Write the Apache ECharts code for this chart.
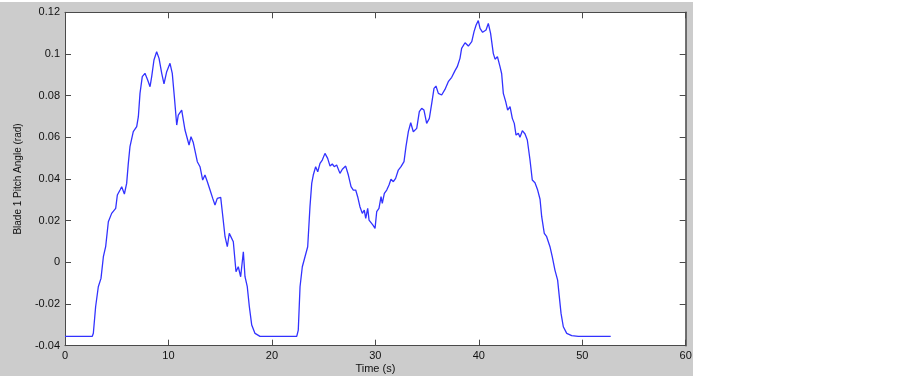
<!DOCTYPE html>
<html>
<head>
<meta charset="utf-8">
<script src="https://cdn.jsdelivr.net/npm/echarts@6/dist/echarts.min.js"></script>
<style>
  html, body { margin: 0; padding: 0; background: #ffffff; width: 903px; height: 376px; overflow: hidden; }
  #chart { position: absolute; left: 0; top: 2px; width: 693px; height: 374px; }
</style>
</head>
<body>
<div id="chart"></div>
<script>
const xTicks = [0, 10, 20, 30, 40, 50, 60];
const yTicks = [-0.04, -0.02, 0, 0.02, 0.04, 0.06, 0.08, 0.1, 0.12];

const time = [
  0, 2.64, 2.74, 2.96, 3.22, 3.48, 3.71, 3.93, 4.19, 4.51, 4.90, 5.06, 5.32, 5.48, 5.74, 5.96,
  6.12, 6.28, 6.60, 6.93, 7.09, 7.25, 7.47, 7.73, 7.99, 8.22, 8.38, 8.60, 8.86, 9.09, 9.35, 9.57,
  9.83, 10.15, 10.37, 10.57, 10.80, 10.95, 11.28, 11.44, 11.60, 11.99, 12.18, 12.40, 12.57, 12.79,
  13.05, 13.31, 13.53, 13.76, 14.02, 14.28, 14.50, 14.72, 15.05, 15.24, 15.47, 15.69, 15.88, 16.02,
  16.27, 16.53, 16.75, 16.98, 17.24, 17.40, 17.62, 17.82, 18.05, 18.37, 18.85,
  22.40, 22.55, 22.72, 22.94, 23.20, 23.46, 23.68, 23.85, 24.00, 24.23, 24.43, 24.65, 24.87, 25.13,
  25.39, 25.62, 25.84, 26.03, 26.26, 26.58, 26.81, 27.13, 27.39, 27.65, 27.87, 28.10, 28.29, 28.51,
  28.74, 28.93, 29.07, 29.26, 29.39, 29.58, 29.77, 29.97, 30.13, 30.35, 30.55, 30.67, 30.87, 31.10,
  31.32, 31.51, 31.74, 31.96, 32.22, 32.48, 32.77, 32.96, 33.19, 33.42, 33.67, 34.00, 34.25, 34.48,
  34.70, 34.96, 35.22, 35.45, 35.67, 35.86, 36.09, 36.41, 36.73, 37.05, 37.38, 37.70, 37.92, 38.18,
  38.34, 38.67, 38.99, 39.32, 39.54, 39.74, 39.95, 40.12, 40.37, 40.70, 40.92, 41.14, 41.40, 41.57,
  41.80, 42.05, 42.21, 42.37, 42.60, 42.79, 43.02, 43.24, 43.43, 43.60, 43.82, 43.98, 44.21, 44.47,
  44.69, 44.95, 45.17, 45.43, 45.69, 45.92, 46.08, 46.33, 46.56, 46.88, 47.10, 47.36, 47.62, 47.75,
  47.95, 48.17, 48.50, 48.98, 49.62, 52.75
];

const pitch = [
  -0.0355, -0.0355, -0.034, -0.0213, -0.0117, -0.0077, 0.0027, 0.0075, 0.0195, 0.0235, 0.0259, 0.0323, 0.0347, 0.0363, 0.0328, 0.0379,
  0.0475, 0.0555, 0.0627, 0.0651, 0.0699, 0.0811, 0.0891, 0.0907, 0.0875, 0.0843, 0.0891, 0.0971, 0.1011, 0.0979, 0.0907, 0.0856,
  0.0915, 0.0955, 0.0907, 0.0795, 0.0659, 0.0707, 0.0731, 0.0683, 0.0635, 0.0563, 0.0603, 0.0575, 0.0579, 0.0483,
  0.0459, 0.0395, 0.0419, 0.0387, 0.0347, 0.0307, 0.0275, 0.0307, 0.0312, 0.0227, 0.0123, 0.0075, 0.0139, 0.0147,
  0.0099, -0.0045, -0.0021, -0.0069, 0.0051, -0.0069, -0.0117, -0.0213, -0.0301, -0.0341, -0.0355,
  -0.0355, -0.0325, -0.0117, -0.0021, 0.0027, 0.0075, 0.0267, 0.0379, 0.0419, 0.0459, 0.0435, 0.0475, 0.0491, 0.0523,
  0.0499, 0.0462, 0.0472, 0.0459, 0.0467, 0.0427, 0.0447, 0.0462, 0.0419, 0.0363, 0.0347, 0.0347, 0.0315, 0.0267,
  0.0235, 0.0251, 0.0211, 0.0259, 0.0203, 0.0211, 0.0179, 0.0163, 0.0243, 0.0259, 0.0315, 0.0283, 0.0331, 0.0347,
  0.0371, 0.0399, 0.0387, 0.0403, 0.0443, 0.0459, 0.0483, 0.0555, 0.0627, 0.067, 0.0627, 0.0643, 0.0723, 0.0739,
  0.0731, 0.0667, 0.0691, 0.0763, 0.0835, 0.0846, 0.0811, 0.0803, 0.0830, 0.0867, 0.0888, 0.0920, 0.0939, 0.0979,
  0.1027, 0.1054, 0.1038, 0.1059, 0.1107, 0.1139, 0.116, 0.1123, 0.1104, 0.1115, 0.1147, 0.1099, 0.1003, 0.0975,
  0.0987, 0.0939, 0.0905, 0.0811, 0.0771, 0.0731, 0.0747, 0.0691, 0.0667, 0.0611, 0.0619, 0.0600, 0.0632, 0.0616,
  0.0587, 0.0491, 0.0395, 0.0382, 0.0347, 0.0303, 0.0219, 0.0139, 0.0123, 0.0075, 0.0027, -0.0037, -0.0085, -0.0149,
  -0.0245, -0.0309, -0.0341, -0.0352, -0.0355, -0.0355
];

const xName = 'Time (s)';
const yName = 'Blade 1 Pitch Angle (rad)';

const data = time.map((t, i) => [t, pitch[i]]);
const axisColor = '#4a4a4a';
const font = 'Liberation Sans, Arial, sans-serif';
const xMin = xTicks[0], xMax = xTicks[xTicks.length - 1], xStep = xTicks[1] - xTicks[0];
const yMin = yTicks[0], yMax = yTicks[yTicks.length - 1], yStep = +(yTicks[1] - yTicks[0]).toFixed(4);

const fmtY = v => String(+v.toFixed(2));

const chart = echarts.init(document.getElementById('chart'), null, { renderer: 'canvas' });
chart.setOption({
  animation: false,
  backgroundColor: '#cccccc',
  grid: {
    left: 65, right: 7.3, top: 10.3, bottom: 30.3,
    containLabel: false, outerBoundsMode: 'none',
    show: true, backgroundColor: '#ffffff', borderWidth: 0
  },
  xAxis: [
    {
      type: 'value', position: 'bottom', min: xMin, max: xMax, interval: xStep,
      name: xName, nameLocation: 'middle', nameGap: 18, nameMoveOverlap: false,
      nameTextStyle: { color: '#111', fontSize: 11, fontFamily: font },
      axisLine: { show: true, onZero: false, lineStyle: { color: axisColor, width: 1 } },
      axisTick: { show: true, inside: true, length: 6, lineStyle: { color: axisColor } },
      axisLabel: { color: '#111', fontSize: 11, fontFamily: font, margin: 5 },
      splitLine: { show: false }
    },
    {
      type: 'value', position: 'top', min: xMin, max: xMax, interval: xStep,
      axisLine: { show: true, onZero: false, lineStyle: { color: axisColor, width: 1 } },
      axisTick: { show: true, inside: true, length: 6, lineStyle: { color: axisColor } },
      axisLabel: { show: false },
      splitLine: { show: false }
    }
  ],
  yAxis: [
    {
      type: 'value', position: 'left', min: yMin, max: yMax, interval: yStep,
      name: yName, nameLocation: 'middle', nameGap: 42, nameMoveOverlap: false,
      nameTextStyle: { color: '#111', fontSize: 10, fontFamily: font },
      axisLine: { show: true, onZero: false, lineStyle: { color: axisColor, width: 1 } },
      axisTick: { show: true, inside: true, length: 6, lineStyle: { color: axisColor } },
      axisLabel: { color: '#111', fontSize: 11, fontFamily: font, margin: 5, formatter: fmtY },
      splitLine: { show: false }
    },
    {
      type: 'value', position: 'right', min: yMin, max: yMax, interval: yStep,
      axisLine: { show: true, onZero: false, lineStyle: { color: axisColor, width: 1.5 } },
      axisTick: { show: true, inside: true, length: 6, lineStyle: { color: axisColor } },
      axisLabel: { show: false },
      splitLine: { show: false }
    }
  ],
  series: [{
    type: 'line',
    xAxisIndex: 0, yAxisIndex: 0,
    data: data,
    showSymbol: false,
    symbol: 'none',
    smooth: false,
    lineStyle: { color: '#3232ff', width: 1.3 }
  }]
});
</script>
</body>
</html>
